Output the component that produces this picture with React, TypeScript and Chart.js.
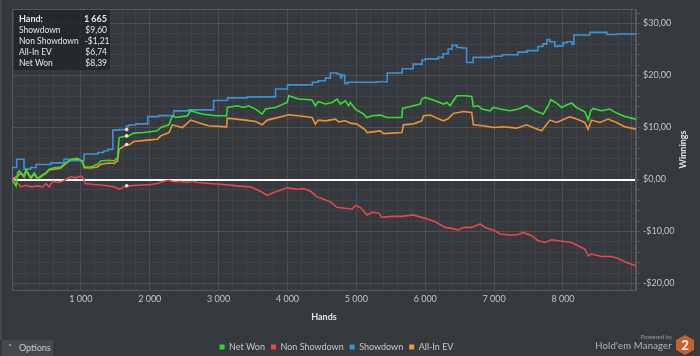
import React, { useEffect, useRef } from 'react';
import { Chart, registerables } from 'chart.js';

Chart.register(...registerables);

type Pt = [number, number];

// [hand, $]
const netWon: Pt[] = [
  [0, 0], [58, -1.25], [83, 1.31], [106, 1.64], [174, 0.68], [203, 1.97], [275, 0.35], [323, 1.31], [372, 0.23], [420, 0.68],
  [493, 1.31], [540, 1.97], [613, 2.28], [710, 2.41], [782, 3.24], [855, 3.9], [952, 4.09], [1024, 3.57], [1048, 2.47], [1145, 2.41],
  [1242, 2.93], [1290, 3.57], [1406, 3.71], [1482, 3.57], [1532, 4.2], [1555, 8.07], [1665, 8.39], [1676, 8.26], [1768, 8.92], [1913, 9.03],
  [2111, 9.36], [2159, 10.0], [2279, 10.52], [2329, 12.26], [2376, 11.93], [2546, 12.26], [2594, 13.22], [2691, 12.84], [2763, 12.59], [2956, 12.26],
  [3115, 12.26], [3126, 13.86], [3270, 14.19], [3362, 13.86], [3434, 14.19], [3536, 13.55], [3633, 12.59], [3680, 13.55], [3825, 13.86], [3995, 14.83],
  [4018, 16.12], [4159, 15.48], [4357, 15.29], [4405, 14.19], [4448, 15.02], [4550, 14.52], [4647, 14.83], [4719, 15.48], [4767, 14.52], [4840, 15.15],
  [4888, 14.19], [4912, 14.83], [4985, 13.55], [5105, 12.59], [5154, 11.93], [5227, 12.26], [5347, 12.39], [5444, 11.93], [5661, 11.93], [5670, 13.67],
  [5829, 14.19], [5926, 14.52], [5951, 15.48], [5999, 15.79], [6144, 15.15], [6264, 14.52], [6313, 14.83], [6361, 14.19], [6409, 15.15], [6458, 16.12],
  [6578, 16.12], [6675, 15.98], [6699, 14.05], [6771, 14.19], [6820, 13.55], [6941, 13.22], [6988, 13.86], [7086, 13.55], [7230, 13.22], [7351, 13.55],
  [7472, 14.19], [7593, 13.22], [7713, 12.59], [7786, 14.19], [7825, 15.35], [7907, 14.71], [7980, 13.86], [8052, 14.32], [8124, 14.71], [8197, 13.86],
  [8317, 13.03], [8365, 11.49], [8404, 13.22], [8438, 13.67], [8559, 13.22], [8680, 13.55], [8777, 12.78], [8897, 12.12], [9060, 11.62],
];

const nonShowdown: Pt[] = [
  [0, 0], [33, -0.14], [83, -0.77], [130, -1.41], [203, -1.1], [275, -1.41], [372, -1.22], [445, -1.41], [493, -0.77], [540, -1.41],
  [590, -0.33], [662, -0.58], [735, -0.33], [807, 0.19], [855, 0.52], [927, 0.33], [1000, 0.71], [1039, 0.19], [1058, -0.77], [1193, -0.97],
  [1337, -1.1], [1482, -1.41], [1555, -1.87], [1604, -1.6], [1665, -1.21], [1700, -1.22], [1821, -1.1], [2014, -0.97], [2111, -0.77], [2207, -0.33],
  [2279, -0.14], [2352, -0.44], [2449, -0.33], [2546, -0.58], [2618, -0.33], [2691, -0.58], [2884, -0.77], [3076, -0.97], [3270, -1.22], [3463, -1.41],
  [3608, -2.26], [3705, -3.03], [3801, -2.51], [3850, -2.26], [3995, -1.6], [4140, -1.87], [4236, -1.74], [4333, -2.26], [4430, -3.34], [4525, -3.8],
  [4622, -4.3], [4719, -5.35], [4840, -5.54], [4937, -5.66], [4985, -5.02], [5057, -5.35], [5154, -6.81], [5227, -6.31], [5322, -6.43], [5371, -7.28],
  [5516, -7.08], [5661, -7.08], [5829, -6.81], [5999, -7.47], [6144, -8.11], [6289, -9.21], [6386, -9.4], [6482, -9.71], [6554, -9.21], [6675, -9.21],
  [6796, -8.55], [6868, -9.21], [7013, -9.85], [7086, -10.48], [7230, -10.68], [7327, -10.68], [7423, -10.17], [7545, -10.81], [7640, -11.78], [7738, -12.1],
  [7835, -11.58], [7931, -11.78], [8124, -12.1], [8220, -12.74], [8317, -13.38], [8365, -14.67], [8414, -14.34], [8559, -14.81], [8704, -14.81], [8800, -15.19],
  [8921, -15.97], [9060, -16.6],
];

const showdown: Pt[] = [
  [0, 0], [68, 2.3], [174, 3.9], [271, 2.0], [350, 2.3], [565, 2.9], [755, 3.2], [826, 3.9], [1045, 3.6], [1246, 4.9],
  [1330, 5.2], [1391, 5.5], [1464, 5.8], [1551, 9.5], [1665, 9.6], [1700, 10.3], [1797, 10.5], [1971, 10.7], [2130, 12.1], [2348, 12.3],
  [2565, 13.2], [2927, 13.4], [3130, 15.2], [3420, 15.7], [3826, 15.9], [4000, 17.4], [4362, 18.2], [4449, 18.7], [4550, 19.0], [4623, 19.5],
  [4724, 20.5], [4768, 20.3], [4790, 19.6], [4830, 20.1], [4875, 18.5], [5303, 18.7], [5448, 18.8], [5666, 20.5], [5825, 21.3], [5955, 22.2],
  [5999, 23.0], [6187, 23.2], [6260, 23.5], [6332, 24.2], [6390, 25.1], [6463, 25.8], [6535, 25.4], [6600, 25.3], [6695, 22.5], [6970, 23.5],
  [7115, 23.7], [7347, 24.0], [7477, 24.5], [7636, 24.8], [7709, 25.6], [7767, 26.1], [7810, 26.9], [7883, 26.5], [7926, 25.6], [8000, 25.7],
  [8057, 26.3], [8129, 26.5], [8158, 26.0], [8390, 27.8], [8636, 28.3], [8781, 27.9], [9060, 28.0],
];

const allInEv: Pt[] = [
  [0, 0], [83, 0.68], [130, 1.25], [174, 0.48], [203, 1.64], [275, 0.19], [319, 1.06], [372, 0.1], [493, 1.16], [540, 1.83],
  [710, 2.22], [782, 3.09], [855, 3.76], [952, 3.96], [1024, 3.38], [1048, 2.28], [1145, 2.22], [1242, 2.41], [1290, 2.93], [1406, 3.18],
  [1482, 3.09], [1532, 3.57], [1555, 5.83], [1665, 6.74], [1700, 6.66], [1768, 7.3], [1966, 7.57], [2111, 7.76], [2159, 8.4], [2279, 9.03],
  [2329, 10.52], [2473, 10.0], [2594, 11.43], [2710, 10.91], [2855, 10.33], [3115, 10.14], [3126, 11.81], [3391, 11.43], [3536, 11.16], [3633, 10.52],
  [3705, 11.43], [3825, 11.81], [4018, 12.45], [4159, 12.26], [4357, 11.93], [4405, 10.66], [4448, 11.43], [4550, 11.29], [4695, 11.62], [4743, 11.1],
  [4840, 11.29], [4912, 10.85], [5009, 10.66], [5082, 10.0], [5130, 9.56], [5154, 9.03], [5347, 9.36], [5395, 8.84], [5661, 9.03], [5684, 10.52],
  [5829, 10.71], [5951, 11.29], [5975, 12.26], [6072, 12.39], [6168, 11.81], [6264, 11.29], [6332, 11.68], [6409, 12.7], [6554, 13.09], [6675, 12.9],
  [6699, 10.52], [6844, 10.33], [6988, 10.0], [7133, 10.14], [7327, 9.88], [7472, 10.52], [7593, 9.85], [7690, 9.36], [7810, 11.43], [7907, 10.97],
  [7999, 11.49], [8100, 12.07], [8197, 11.62], [8317, 10.97], [8365, 9.69], [8414, 11.43], [8535, 10.97], [8655, 11.62], [8777, 10.97], [8897, 10.14],
  [9060, 9.69],
];

const seriesLabels = ['Net Won', 'Non Showdown', 'Showdown', 'All-In EV'];
const seriesData: Pt[][] = [netWon, nonShowdown, showdown, allInEv];
const seriesColors = ['#33de33', '#e5474b', '#3a92d6', '#ef9131'];
const legendColors = ['#22dd22', '#ee4444', '#2f97e0', '#f29a33'];
const steppedSeries = [false, false, true, false];

const handMax = 9060;
const handLabelMax = 8000;
const winMin = -21.25;
const winMax = 32.8;
const handStep = 200;
const winStep = 2;
const highlightHand = 1665;
const tooltipOrder = ['Showdown', 'Non Showdown', 'All-In EV', 'Net Won'];

const BG = '#36393d';
const GRID_MINOR = '#404347';
const GRID_MAJOR = '#4d5054';
const FRAME = '#55585c';
const TICK_TEXT = '#c2c4c6';
const TITLE_TEXT = '#e4e4e4';
const FONT = 'Lato, "Open Sans", sans-serif';

const fmtMoney = (v: number) => (v < 0 ? '-' : '') + '$' + Math.abs(v).toFixed(2).replace('.', ',');
const fmtHands = (v: number) => String(v).replace(/\B(?=(\d{3})+(?!\d))/g, ' ');

const tweaks = {
  id: 'hmTweaks',
  afterLayout(chart: any) {
    const lg = chart.legend;
    if (lg) {
      const shift = 336.5 - (lg.left + lg.right) / 2;
      lg.left += shift;
      lg.right += shift;
      lg.top += 5.5;
      lg.bottom += 5.5;
    }
  },
  beforeDatasetsDraw(chart: any) {
    const { ctx, chartArea: a } = chart;
    ctx.save();
    ctx.strokeStyle = FRAME;
    ctx.lineWidth = 1;
    ctx.strokeRect(a.left + 0.5, a.top + 0.5, a.right - a.left - 1, a.bottom - a.top);
    ctx.restore();
  },
  afterDraw(chart: any) {
    const { ctx, chartArea: a } = chart;
    const ys = chart.scales.y;
    ctx.save();
    ctx.translate(ys.right - 17, (a.top + a.bottom) / 2);
    ctx.rotate(-Math.PI / 2);
    ctx.font = `bold 9px ${FONT}`;
    ctx.fillStyle = TITLE_TEXT;
    ctx.textAlign = 'center';
    ctx.textBaseline = 'middle';
    ctx.fillText('Winnings', 0, 0);
    ctx.restore();
  },
};

export default function App() {
  const canvasRef = useRef<HTMLCanvasElement | null>(null);

  useEffect(() => {
    if (!canvasRef.current) return;
    const chart = new Chart(canvasRef.current, {
      type: 'line',
      data: {
        datasets: seriesData.map((s, i) => ({
          label: seriesLabels[i],
          data: s.map(([x, y]) => ({ x, y })),
          borderColor: seriesColors[i],
          backgroundColor: seriesColors[i],
          borderWidth: 1.6,
          stepped: steppedSeries[i] ? 'after' : false,
          tension: 0,
          fill: false,
          pointRadius: (c: any) => (c.raw && c.raw.x === highlightHand ? 1.8 : 0),
          pointBackgroundColor: '#f5e4b8',
          pointBorderWidth: 0,
        })),
      } as any,
      options: {
        animation: false,
        responsive: false,
        events: [],
        layout: { padding: { left: 12, top: 9, right: 0, bottom: 0 } },
        scales: {
          x: {
            type: 'linear',
            min: 0,
            max: handMax,
            grid: {
              color: (c: any) => (c.tick && c.tick.value % 1000 === 0 ? GRID_MAJOR : GRID_MINOR),
              lineWidth: 1,
              drawTicks: false,
            },
            border: { color: FRAME },
            ticks: {
              stepSize: handStep,
              autoSkip: false,
              includeBounds: false,
              maxRotation: 0,
              minRotation: 0,
              padding: 4,
              color: TICK_TEXT,
              font: { family: FONT, size: 9 },
              callback: (v: any) => (v % 1000 === 0 && v > 0 && v <= handLabelMax ? fmtHands(v) : ''),
            },
            title: {
              display: true,
              text: 'Hands',
              color: TITLE_TEXT,
              font: { family: FONT, size: 9, weight: 'bold' },
              padding: { top: 0, bottom: 9 },
            },
            afterFit: (s: any) => { s.height = 41; },
          },
          y: {
            type: 'linear',
            position: 'right',
            min: winMin,
            max: winMax,
            grid: {
              color: (c: any) => {
                const v = c.tick ? c.tick.value : 1;
                if (v === 0) return '#ffffff';
                return v % 10 === 0 ? GRID_MAJOR : GRID_MINOR;
              },
              lineWidth: (c: any) => (c.tick && c.tick.value === 0 ? 2 : 1),
              tickColor: FRAME,
              tickWidth: 1,
              tickLength: 4,
            },
            border: { color: FRAME },
            ticks: {
              stepSize: winStep,
              autoSkip: false,
              includeBounds: false,
              padding: 3,
              crossAlign: 'near',
              color: TICK_TEXT,
              font: { family: FONT, size: 9 },
              callback: (v: any) => (Math.abs(v % 10) < 1e-9 ? fmtMoney(v) : ''),
            },
            afterFit: (s: any) => { s.width = 64; },
          },
        },
        plugins: {
          legend: {
            position: 'bottom',
            labels: {
              boxWidth: 5,
              boxHeight: 5,
              padding: 6,
              color: '#c8c8c8',
              font: { family: FONT, size: 9 },
              generateLabels: (ch: any) =>
                ch.data.datasets.map((d: any, i: number) => ({
                  text: d.label,
                  fillStyle: legendColors[i],
                  strokeStyle: legendColors[i],
                  lineWidth: 0,
                  hidden: false,
                  datasetIndex: i,
                  fontColor: '#c8c8c8',
                })),
            },
          },
          tooltip: { enabled: false },
        },
      } as any,
      plugins: [tweaks as any],
    });
    return () => chart.destroy();
  }, []);

  const tipRows = tooltipOrder.map((name) => {
    const idx = seriesLabels.indexOf(name);
    const pt = seriesData[idx].find((p) => p[0] === highlightHand);
    return [name, pt ? fmtMoney(pt[1]) : ''];
  });

  const rowStyle: React.CSSProperties = {
    display: 'flex',
    justifyContent: 'space-between',
    height: 11,
    lineHeight: '11px',
    whiteSpace: 'nowrap',
  };

  return (
    <div
      style={{
        position: 'fixed',
        left: 0,
        top: 0,
        width: 700,
        height: 356,
        background: BG,
        overflow: 'hidden',
        fontFamily: FONT,
      }}
    >
      <canvas ref={canvasRef} width={700} height={356} style={{ position: 'absolute', left: 0, top: 0 }} />
      <div style={{ position: 'absolute', left: 0, top: 0, width: 2, height: 340, background: '#45484c' }} />
      <div
        style={{
          position: 'absolute',
          left: 14,
          top: 10,
          width: 96,
          height: 60,
          boxSizing: 'border-box',
          padding: '3px 3px 0 5px',
          background: 'rgba(34,36,39,0.82)',
          color: '#e6e6e6',
          fontSize: 8.5,
        }}
      >
        <div style={{ ...rowStyle, fontWeight: 700, fontSize: 9, height: 12 }}>
          <span>Hand:</span>
          <span>{fmtHands(highlightHand)}</span>
        </div>
        {tipRows.map(([n, v]) => (
          <div key={n} style={rowStyle}>
            <span style={{ marginRight: 6 }}>{n}</span>
            <span>{v}</span>
          </div>
        ))}
      </div>
      <div
        style={{
          position: 'absolute',
          left: 2,
          top: 340,
          width: 51,
          height: 16,
          background: '#45484c',
          color: '#c8c8c8',
          fontSize: 9,
          lineHeight: '16px',
        }}
      >
        <span style={{ position: 'absolute', left: 6, top: 1, fontSize: 8, fontFamily: '"DejaVu Sans", sans-serif' }}>˄</span>
        <span style={{ position: 'absolute', left: 17 }}>Options</span>
      </div>
      <div
        style={{
          position: 'absolute',
          right: 28,
          top: 333,
          color: '#9a9a9a',
          fontSize: 6,
          lineHeight: '8px',
        }}
      >
        Powered by
      </div>
      <div
        style={{
          position: 'absolute',
          right: 28,
          top: 340,
          color: '#b4b4b4',
          fontSize: 9.5,
          lineHeight: '12px',
          letterSpacing: 0.2,
        }}
      >
        Hold'em Manager
      </div>
      <div
        style={{
          position: 'absolute',
          left: 676,
          top: 335,
          width: 18,
          height: 20,
          background: '#c4622b',
          clipPath: 'polygon(50% 0%, 100% 25%, 100% 75%, 50% 100%, 0% 75%, 0% 25%)',
          color: '#ffffff',
          fontWeight: 700,
          fontSize: 13,
          lineHeight: '20px',
          textAlign: 'center',
        }}
      >
        2
      </div>
    </div>
  );
}
